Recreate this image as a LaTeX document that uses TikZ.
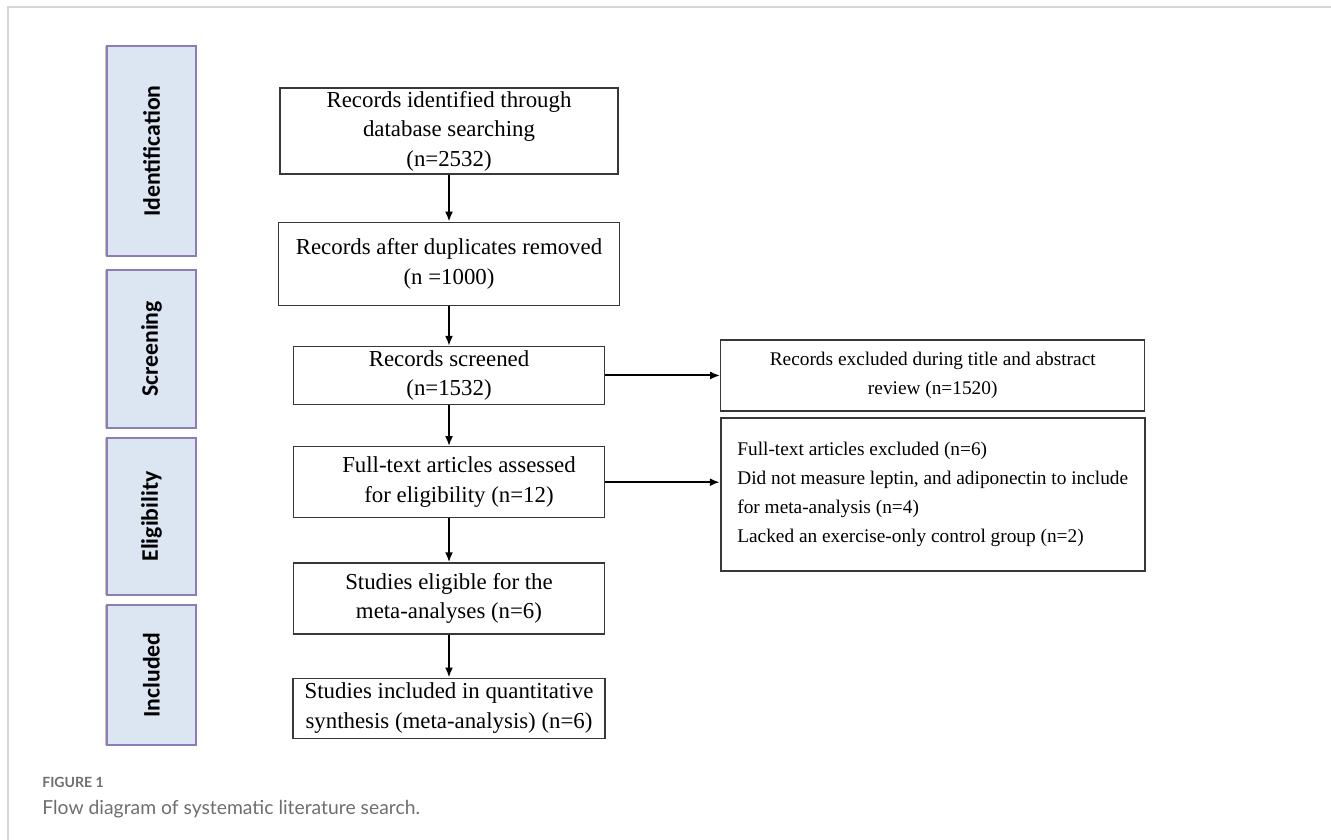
\documentclass[tikz,border=0pt]{standalone}
\usepackage{fontspec}
\setmainfont{Liberation Serif}
\newfontfamily\stagefont{Carlito}
\newfontfamily\capfont{Lato}
\usepackage{xcolor}
\usetikzlibrary{positioning,arrows.meta,shadows}
\definecolor{framegray}{HTML}{D6D6D6}
\definecolor{stagefill}{HTML}{DCE6F2}
\definecolor{stageline}{HTML}{8E7CB4}
\definecolor{boxline}{HTML}{383838}
\definecolor{capgray}{HTML}{6E6E6E}
\tikzset{
  stage/.style={rectangle, draw=stageline, fill=stagefill, line width=0.8pt, rotate=90,
                minimum height=17.8mm, inner sep=0pt, font=\stagefont\bfseries\fontsize{13.5}{16}\selectfont,
                drop shadow={shadow xshift=-0.5mm, shadow yshift=0mm, fill=black, opacity=0.25}},
  box/.style={rectangle, draw=boxline, line width=0.7pt, inner xsep=2pt, inner ysep=1pt,
              align=center, font=\fontsize{13}{16.8}\selectfont},
  exbox/.style={rectangle, draw=boxline, line width=0.7pt, minimum width=84.8mm,
                font=\fontsize{11}{16.5}\selectfont},
  arr/.style={-{Latex[length=2mm,width=1.6mm]}, line width=1.1pt, draw=black},
}

\begin{document}
\begin{tikzpicture}[x=0.2mm, y=-0.2mm, node distance=9mm and 23mm]
    \useasboundingbox (0,0) rectangle (1331,840);
    \draw[framegray, line width=1pt] (8,840) -- (8,7) -- (1331,7);
    % stages
    \node[stage, minimum width=42mm] (ident) at (151.5,151) {Identification};
    \node[stage, minimum width=31.6mm] (screen) at (151.5,349) {Screening};
    \node[stage, minimum width=31.4mm] (elig) at (151.5,516.5) {Eligibility};
    \node[stage, minimum width=28mm] (incl) at (151.5,675) {Included};
    % main flow
    \node[box, minimum width=67.6mm, minimum height=17.2mm] (found) at (449,131) {Records identified through\\database searching\\(n=2532)};
    \node[box, below=9.4mm of found, minimum width=68.2mm, minimum height=16.6mm] (dedup) {Records after duplicates removed\\(n =1000)};
    \node[box, below=8mm of dedup, minimum width=62.2mm, minimum height=11.6mm] (screened) {Records screened\\(n=1532)};
    \node[box, below=8.2mm of screened, minimum width=62.2mm, minimum height=14.2mm] (fulltext) {\hspace*{4mm}Full-text articles assessed\\\hspace*{4mm}for eligibility (n=12)};
    \node[box, below=8.8mm of fulltext, minimum width=62.2mm, minimum height=14.2mm] (eligible) {Studies eligible for the\\meta-analyses (n=6)};
    \node[box, below=8.6mm of eligible, minimum width=62.4mm, minimum height=12mm] (included) {Studies included in quantitative\\synthesis (meta-analysis) (n=6)};
    % exclusions
    \node[exbox, right=of screened, minimum height=14.2mm, align=center] (exscreen) {Records excluded during title and abstract\\review (n=1520)};
    \node[exbox, below=1mm of exscreen, minimum height=30.6mm, align=left, line width=1.1pt] (exfull) {Full-text articles excluded (n=6)\\Did not measure leptin, and adiponectin to include\\for meta-analysis (n=4)\\Lacked an exercise-only control group (n=2)};
    \draw[arr] (found) -- (dedup);
    \draw[arr] (dedup) -- (screened);
    \draw[arr] (screened) -- (fulltext);
    \draw[arr] (fulltext) -- (eligible);
    \draw[arr] (eligible) -- (included);
    \draw[arr] (screened) -- (exscreen);
    \draw[arr] (fulltext.east) -- (fulltext.east -| exfull.west);
    % caption
    \node[anchor=base west, inner sep=0pt, text=capgray, font=\capfont\bfseries\fontsize{8}{10}\selectfont] (figno) at (42,787) {FIGURE 1};
    \node[anchor=base west, inner sep=0pt, text=capgray, font=\capfont\fontsize{11}{13}\selectfont] (figcap) at (42,814) {Flow diagram of systematic literature search.};
\end{tikzpicture}
\end{document}
